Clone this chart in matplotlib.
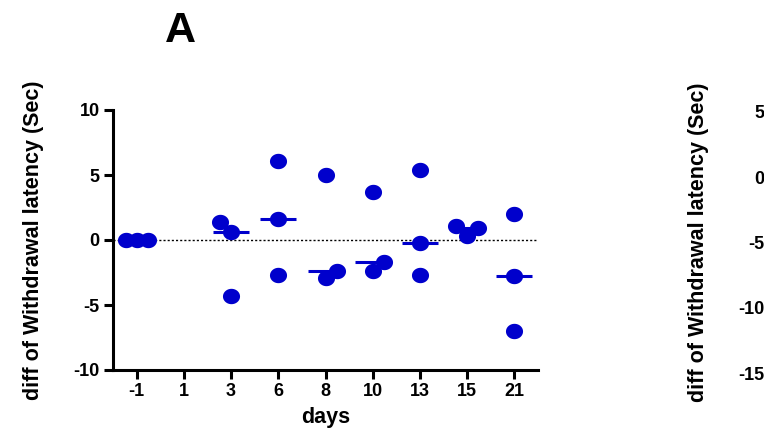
import numpy as np
import matplotlib
matplotlib.use("Agg")
import matplotlib.pyplot as plt
from matplotlib.path import Path

# ---- data (panel A) ----
days = ["-1", "1", "3", "6", "8", "10", "13", "15", "21"]
d_m1 = [0.0, 0.0, 0.0]
d_1 = []
d_3 = [1.4, 0.6, -4.3]
d_6 = [6.1, 1.6, -2.7]
d_8 = [5.0, -2.9, -2.4]
d_10 = [3.7, -2.4, -1.7]
d_13 = [5.4, -0.2, -2.7]
d_15 = [1.1, 0.3, 0.9]
d_21 = [2.0, -2.8, -7.0]
groups = [d_m1, d_1, d_3, d_6, d_8, d_10, d_13, d_15, d_21]

# sideways nudge of overlapping points (in marker widths) -- layout only
nudge = [[-1, 0, 1], [], [-1, 0, 0], [0, 0, 0], [0, 0, 1], [0, 0, 1],
         [0, 0, 0], [-1, 0, 1], [0, 0, 0]]

yticks_a = [-10, -5, 0, 5, 10]
yticks_b = [-15, -10, -5, 0, 5]

BLUE = "#0000CC"
FONT = "Liberation Sans"
plt.rcParams["font.family"] = [FONT, "DejaVu Sans"]
plt.rcParams["font.weight"] = "bold"

# elliptical marker (slightly wider than tall)
t = np.linspace(0, 2 * np.pi, 64)
ell = Path(np.column_stack([np.cos(t), 0.9 * np.sin(t)]), closed=True)

fig = plt.figure(figsize=(7.64, 4.32), dpi=100)
W, H = 764, 432

def style_axes(ax):
    for s in ["top", "right"]:
        ax.spines[s].set_visible(False)
    for s in ["left", "bottom"]:
        ax.spines[s].set_linewidth(2.2)
    ax.tick_params(axis="both", width=2.2, length=6.5, direction="out",
                   labelsize=13, pad=3)
    for lab in ax.get_xticklabels() + ax.get_yticklabels():
        lab.set_fontweight("bold")

# ---- panel A ----
axA = fig.add_axes([113 / W, 1 - 370 / H, (538 - 113) / W, (370 - 110) / H])
axA.set_xlim(-0.5, len(days) - 0.5)
axA.set_ylim(-10, 10)
axA.axhline(0, color="black", lw=1.0, ls=(0, (1.5, 1.5)), zorder=1)
dx = 0.235
for i, (vals, nd) in enumerate(zip(groups, nudge)):
    if not vals:
        continue
    xs = [i + n * dx for n in nd]
    axA.scatter(xs, vals, s=(12.3) ** 2, marker=ell, color=BLUE,
                linewidths=0, zorder=3)
    med = float(np.median(vals))
    axA.plot([i - 0.38, i + 0.38], [med, med], color=BLUE, lw=2.2,
             solid_capstyle="butt", zorder=2)
axA.set_xticks(range(len(days)))
axA.set_xticklabels(days)
axA.set_yticks(yticks_a)
axA.set_yticklabels([str(v) for v in yticks_a])
style_axes(axA)
axA.set_xlabel("days", fontsize=15.5, fontweight="bold", labelpad=5)
axA.set_ylabel("diff of Withdrawal latency (Sec)", fontsize=15.5,
               fontweight="bold", labelpad=21)
fig.text(180 / W, 1 - 31 / H, "A", fontsize=31, fontweight="bold",
         ha="center", va="center")

# ---- panel B (mostly outside the canvas) ----
axB = fig.add_axes([778 / W, 1 - 373 / H, (538 - 113) / W, (373 - 112) / H])
axB.set_ylim(-15, 5)
axB.set_xlim(-0.5, len(days) - 0.5)
axB.set_yticks(yticks_b)
axB.set_yticklabels([str(v) for v in yticks_b])
axB.set_xticks([])
style_axes(axB)
axB.set_ylabel("diff of Withdrawal latency (Sec)", fontsize=15.5,
               fontweight="bold", labelpad=21)

fig.savefig("out.png", dpi=100)
